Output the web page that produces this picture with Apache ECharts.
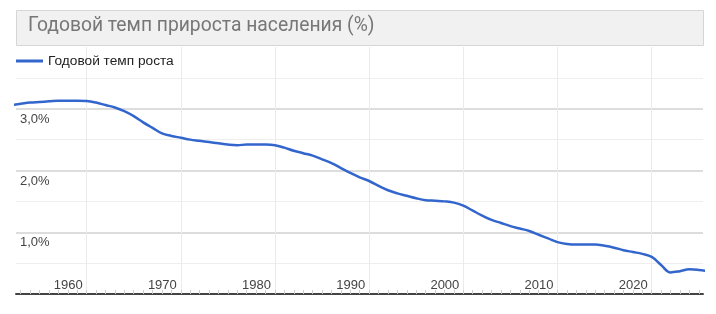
<!DOCTYPE html>
<html>
<head>
<meta charset="utf-8">
<script src="https://cdn.jsdelivr.net/npm/echarts@6/dist/echarts.min.js"></script>
<style>
html,body{margin:0;padding:0;background:#fff;}
#c{width:716px;height:314px;}
</style>
</head>
<body>
<div id="c"></div>
<script>
const titleText = 'Годовой темп прироста населения (%)';
const seriesName = 'Годовой темп роста';
const years = [1952,1953,1954,1955,1956,1957,1958,1959,1960,1961,1962,1963,1964,1965,1966,1967,1968,1969,
  1970,1971,1972,1973,1974,1975,1976,1977,1978,1979,1980,1981,1982,1983,1984,1985,1986,1987,1988,1989,
  1990,1991,1992,1993,1994,1995,1996,1997,1998,1999,2000,2001,2002,2003,2004,2005,2006,2007,2008,2009,
  2010,2011,2012,2013,2014,2015,2016,2017,2018,2019,2020,2021,2022,2023,2024,2025,2026];
const growth = [3.06,3.08,3.10,3.11,3.12,3.13,3.13,3.13,3.125,3.10,3.06,3.02,2.96,2.88,2.78,2.69,2.60,2.56,
  2.53,2.50,2.48,2.46,2.44,2.42,2.41,2.42,2.42,2.42,2.41,2.37,2.32,2.28,2.24,2.18,2.12,2.04,1.96,1.89,
  1.83,1.75,1.68,1.63,1.59,1.55,1.52,1.51,1.50,1.48,1.43,1.35,1.27,1.20,1.15,1.10,1.06,1.02,0.96,0.90,
  0.84,0.81,0.80,0.80,0.80,0.78,0.75,0.71,0.68,0.65,0.60,0.47,0.35,0.37,0.40,0.39,0.37];
const decadeTicks = [1960,1970,1980,1990,2000,2010,2020];
const yearTicks = [];
for (let y = 1953; y <= 2025; y++) yearTicks.push(y);
const xMin = 1952.5, xMax = 2025.45;

const FONT = 'Arial, "Liberation Sans", sans-serif';
const chart = echarts.init(document.getElementById('c'), null, {renderer:'canvas'});
const data = years.map((y,i)=>[y, growth[i]]);

chart.setOption({
  animation:false,
  backgroundColor:'#fff',
  title:{
    text:titleText, left:28, top:17, padding:0,
    textStyle:{fontFamily:'Roboto, Arial, sans-serif', fontSize:19.3, fontWeight:'normal', color:'#777'}
  },
  graphic:[{
    type:'rect', left:16, top:10, z:-1,
    shape:{width:687, height:35},
    style:{fill:'#f1f1f1', stroke:'#d6d6d6', lineWidth:1}
  }],
  legend:{
    left:16, top:54, padding:0,
    icon:'rect', itemWidth:27, itemHeight:3,
    textStyle:{fontFamily:FONT, fontSize:13.7, color:'#222'},
    data:[seriesName]
  },
  grid:{left:16, right:13, top:47, bottom:20, containLabel:false},
  xAxis:[{
    type:'value', min:xMin, max:xMax, position:'bottom',
    axisLine:{show:true, lineStyle:{color:'#444', width:2}},
    axisTick:{show:true, inside:true, length:4, customValues:yearTicks, lineStyle:{color:'#ccc', width:1}},
    axisLabel:{show:false},
    splitLine:{show:false}
  },{
    type:'value', min:xMin, max:xMax, position:'bottom', offset:0,
    axisLine:{show:false},
    axisTick:{show:false, customValues:decadeTicks},
    axisLabel:{show:true, inside:true, customValues:decadeTicks, align:'right', verticalAlign:'bottom',
      margin:2, padding:[0,4,0,0], fontFamily:FONT, fontSize:13, color:'#444',
      formatter:v=>String(Math.round(v))},
    splitLine:{show:true, lineStyle:{color:'#ebebeb', width:1}}
  }],
  yAxis:{
    type:'value', min:0, max:4, interval:1,
    axisLine:{show:false}, axisTick:{show:false},
    axisLabel:{inside:true, margin:4, verticalAlign:'top', padding:[4,0,0,0],
      fontFamily:FONT, fontSize:13, color:'#444',
      formatter:v=> (v===0||v===4) ? '' : v.toFixed(1).replace('.',',')+'%'},
    splitLine:{show:true, lineStyle:{color:['#ddd','#ddd','#ddd','#ddd','rgba(0,0,0,0)'], width:2}},
    minorTick:{show:false, splitNumber:2},
    minorSplitLine:{show:true, lineStyle:{color:'#eee', width:1}}
  },
  series:[{
    name:seriesName, type:'line', xAxisIndex:0, data:data,
    smooth:0.4, showSymbol:false, clip:true,
    lineStyle:{color:'#3366cc', width:2.5}, itemStyle:{color:'#3366cc'}
  }]
});
</script>
</body>
</html>
